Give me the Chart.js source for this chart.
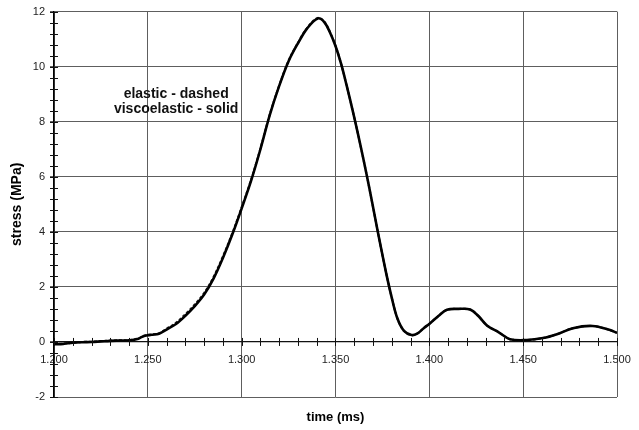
<!DOCTYPE html>
<html>
<head>
<meta charset="utf-8">
<title>stress vs time</title>
<script src="https://cdn.jsdelivr.net/npm/chart.js@4/dist/chart.umd.min.js"></script>
<style>
    html, body { margin: 0; padding: 0; background: #fff; }
    #wrap { position: relative; width: 639px; height: 430px; }
    canvas { display: block; }
</style>
</head>
<body>
<div id="wrap"><canvas id="stress" width="639" height="430"></canvas></div>
<script>
// time (ms) samples along the pulse
const timeMs = [
    1.200, 1.205, 1.210, 1.215, 1.220, 1.225, 1.230, 1.235, 1.240, 1.245,
    1.248, 1.252, 1.256, 1.260, 1.265, 1.270, 1.275, 1.280, 1.285, 1.290,
    1.295, 1.300, 1.305, 1.310, 1.315, 1.320, 1.325, 1.330, 1.335, 1.3405,
    1.344, 1.347, 1.350, 1.353, 1.356, 1.359, 1.362, 1.365, 1.368, 1.371,
    1.374, 1.377, 1.380, 1.383, 1.3865, 1.3905, 1.3935, 1.3970, 1.4004, 1.405,
    1.4094, 1.4155, 1.4217, 1.426, 1.4307, 1.437, 1.443, 1.452, 1.4606, 1.468,
    1.4765, 1.487, 1.4963, 1.500
];

// stress (MPa), viscoelastic model
const viscoelastic = [
    -0.08, -0.07, -0.03, -0.01, 0.00, 0.02, 0.04, 0.05, 0.06, 0.12,
    0.22, 0.26, 0.30, 0.45, 0.65, 0.95, 1.30, 1.72, 2.30, 3.05,
    3.90, 4.85, 5.85, 7.00, 8.25, 9.30, 10.20, 10.85, 11.40, 11.75,
    11.62, 11.25, 10.75, 10.10, 9.30, 8.45, 7.55, 6.60, 5.60, 4.55,
    3.50, 2.50, 1.60, 0.85, 0.40, 0.25, 0.30, 0.50, 0.68, 0.95,
    1.17, 1.20, 1.18, 0.95, 0.60, 0.35, 0.10, 0.07, 0.14, 0.28,
    0.50, 0.58, 0.43, 0.33
];

// stress (MPa), elastic model
const elastic = [
    -0.07, -0.06, -0.03, 0.00, 0.01, 0.03, 0.05, 0.06, 0.07, 0.13,
    0.23, 0.27, 0.32, 0.48, 0.70, 1.01, 1.36, 1.78, 2.36, 3.11,
    3.95, 4.90, 5.89, 7.03, 8.27, 9.32, 10.22, 10.87, 11.42, 11.77,
    11.64, 11.27, 10.76, 10.10, 9.30, 8.45, 7.55, 6.60, 5.60, 4.55,
    3.50, 2.50, 1.60, 0.85, 0.40, 0.25, 0.30, 0.50, 0.68, 0.95,
    1.17, 1.20, 1.18, 0.95, 0.60, 0.35, 0.10, 0.07, 0.14, 0.28,
    0.50, 0.58, 0.43, 0.33
];

const noteLines = ['elastic - dashed', 'viscoelastic - solid'];

const toPoints = vals => vals.map((v, i) => ({ x: timeMs[i], y: v }));

// minor tick marks crossing the zero line and the left axis, plus the note text
const axisMarks = {
    id: 'axisMarks',
    afterDraw(chart) {
        const ctx = chart.ctx;
        const xs = chart.scales.x, ys = chart.scales.y;
        const y0 = ys.getPixelForValue(0);
        const xl = xs.getPixelForValue(1.2);
        ctx.save();
        ctx.strokeStyle = '#111';
        ctx.lineWidth = 1;
        ctx.beginPath();
        for (let k = 0; k <= 30; k++) {
            const px = Math.round(xs.getPixelForValue(1.2 + k * 0.01)) + 0.5;
            ctx.moveTo(px, y0 - 4);
            ctx.lineTo(px, y0 + 4);
        }
        for (let k = 0; k <= 35; k++) {
            const py = Math.round(ys.getPixelForValue(-2 + k * 0.4)) + 0.5;
            ctx.moveTo(xl - 4, py);
            ctx.lineTo(xl + 4, py);
        }
        ctx.stroke();

        ctx.fillStyle = '#111';
        ctx.font = 'bold 14px "Liberation Sans", Arial, sans-serif';
        ctx.textAlign = 'center';
        ctx.textBaseline = 'alphabetic';
        const nx = xs.getPixelForValue(1.2651);
        noteLines.forEach((t, i) => {
            ctx.fillText(t, nx, ys.getPixelForValue(8.85) + i * 15);
        });
        ctx.restore();
    }
};

const gridGray = '#5e5e5e';
const font = { family: '"Liberation Sans", Arial, sans-serif', size: 11 };

new Chart(document.getElementById('stress'), {
    type: 'line',
    data: {
        datasets: [
            {
                label: 'viscoelastic',
                data: toPoints(viscoelastic),
                borderColor: '#000',
                borderWidth: 2.6,
                pointRadius: 0,
                tension: 0.35,
                order: 1
            },
            {
                label: 'elastic',
                data: toPoints(elastic),
                borderColor: '#222',
                borderWidth: 2,
                borderDash: [3, 2],
                pointRadius: 0,
                tension: 0.35,
                order: 2
            }
        ]
    },
    options: {
        responsive: false,
        animation: false,
        layout: { padding: { top: 10, right: 22, left: 0, bottom: 0 } },
        plugins: { legend: { display: false }, tooltip: { enabled: false } },
        scales: {
            x: {
                type: 'linear',
                position: 'bottom',
                min: 1.2,
                max: 1.5,
                ticks: { display: false, stepSize: 0.05 },
                grid: { color: gridGray, lineWidth: 1, drawTicks: false },
                border: { display: false },
                title: {
                    display: true,
                    text: 'time (ms)',
                    color: '#000',
                    font: { family: font.family, size: 13, weight: 'bold' },
                    padding: { top: 0, bottom: 5 }
                },
                afterFit(scale) { scale.height = 33; }
            },
            xz: {
                type: 'linear',
                axis: 'x',
                position: { y: 0 },
                min: 1.2,
                max: 1.5,
                ticks: {
                    stepSize: 0.01,
                    autoSkip: false,
                    maxRotation: 0,
                    padding: 3,
                    color: '#222',
                    font: font,
                    callback: v => (Math.round(v * 100) % 5 === 0 ? v.toFixed(3) : '')
                },
                grid: { display: false },
                border: { display: true, color: '#111', width: 1.2 }
            },
            y: {
                min: -2,
                max: 12,
                ticks: { stepSize: 2, padding: 5, color: '#222', font: font },
                grid: { color: gridGray, lineWidth: 1, drawTicks: true, tickLength: 4 },
                border: { display: true, color: '#000', width: 1.5 },
                title: {
                    display: true,
                    text: 'stress (MPa)',
                    color: '#000',
                    font: { family: font.family, size: 14, weight: 'bold' },
                    padding: { top: 9, bottom: 0 }
                },
                afterFit(scale) { scale.width = 54; }
            }
        }
    },
    plugins: [axisMarks]
});
</script>
</body>
</html>
